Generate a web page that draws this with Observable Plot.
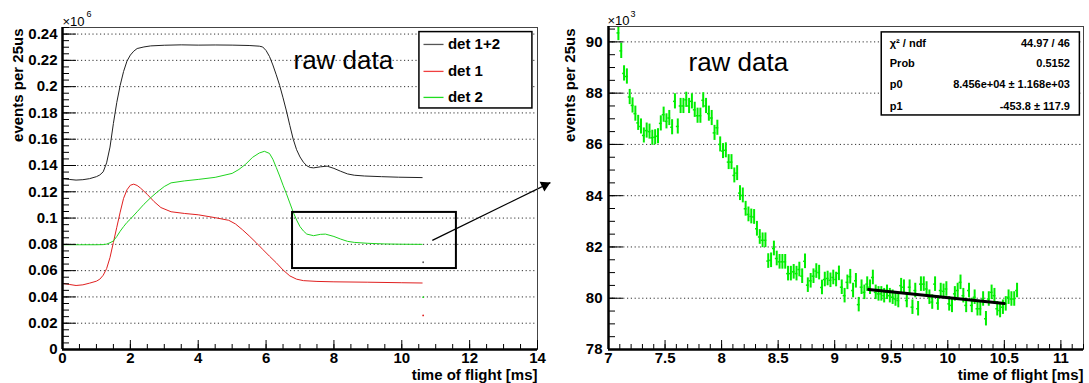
<!DOCTYPE html>
<html><head><meta charset="utf-8">
<script src="https://cdn.jsdelivr.net/npm/d3@7"></script>
<script src="https://cdn.jsdelivr.net/npm/@observablehq/plot@0.6"></script>
<style>
html,body{margin:0;padding:0;background:#fff;}
#wrap{display:flex;width:1089px;height:383px;overflow:hidden;}
#wrap svg{flex:none;}
</style></head><body><div id="wrap"></div>
<script>
// ---------------- data: left panel (counts, units of 1e6) ----------------
const sumT = [0,0.2,0.4,0.6,0.8,1.0,1.1,1.2,1.3,1.4,1.5,1.6,1.7,1.8,1.9,2.0,2.1,2.2,2.4,2.6,3.0,3.5,4.0,4.5,5.0,5.5,5.8,5.9,6.0,6.1,6.2,6.3,6.4,6.5,6.6,6.7,6.8,6.9,7.0,7.1,7.2,7.3,7.4,7.6,7.8,8.0,8.2,8.4,8.6,8.9,9.4,9.9,10.6];
const sumV = [0.1300,0.1294,0.1289,0.1292,0.1300,0.1315,0.1328,0.1352,0.1420,0.1540,0.1720,0.1880,0.2010,0.2115,0.2194,0.2240,0.2270,0.2290,0.2302,0.2310,0.2315,0.2318,0.2316,0.2317,0.2316,0.2313,0.2308,0.2302,0.2275,0.2230,0.2165,0.2090,0.2010,0.1915,0.1815,0.1705,0.1600,0.1520,0.1465,0.1425,0.1398,0.1385,0.1382,0.1390,0.1395,0.1378,0.1356,0.1336,0.1326,0.1320,0.1315,0.1311,0.1308];
const det1T = [0,0.2,0.4,0.6,0.8,1.0,1.1,1.2,1.3,1.4,1.5,1.6,1.7,1.8,1.9,2.0,2.1,2.2,2.3,2.5,2.7,2.9,3.2,3.6,4.0,4.5,4.9,5.1,5.3,5.5,5.7,5.9,6.1,6.3,6.5,6.7,6.9,7.1,7.5,8.0,9.0,10.0,10.6];
const det1V = [0.0503,0.0495,0.0487,0.0492,0.0505,0.0520,0.0535,0.0565,0.0615,0.0700,0.0815,0.0930,0.1045,0.1150,0.1215,0.1250,0.1258,0.1248,0.1228,0.1180,0.1125,0.1080,0.1048,0.1035,0.1025,0.1003,0.0983,0.0955,0.0912,0.0865,0.0815,0.0762,0.0710,0.0660,0.0605,0.0560,0.0535,0.0524,0.0518,0.0515,0.0512,0.0508,0.0506];
const det2T = [0,0.5,1.0,1.2,1.3,1.4,1.5,1.6,1.7,1.8,1.9,2.0,2.2,2.4,2.6,2.8,3.0,3.2,3.6,4.0,4.5,5.0,5.2,5.4,5.6,5.8,5.95,6.1,6.2,6.3,6.4,6.5,6.6,6.7,6.8,6.9,7.0,7.1,7.2,7.4,7.6,7.75,8.0,8.2,8.4,8.6,9.0,9.5,10.0,10.6];
const det2V = [0.0797,0.0797,0.0797,0.0798,0.0802,0.0812,0.0826,0.0860,0.0900,0.0935,0.0967,0.0992,0.1048,0.1105,0.1155,0.1200,0.1240,0.1268,0.1283,0.1294,0.1310,0.1340,0.1370,0.1410,0.1462,0.1495,0.1508,0.1492,0.1448,0.1385,0.1320,0.1250,0.1185,0.1115,0.1045,0.0985,0.0935,0.0902,0.0878,0.0866,0.0876,0.0878,0.0860,0.0840,0.0823,0.0815,0.0808,0.0803,0.0801,0.0800];
// last (partial) bin of each histogram
const lastBinT = 10.63;
const lastBinV = {sum: 0.0664, det1: 0.0259, det2: 0.0398};
const seriesNames = ["det 1+2", "det 1", "det 2"];

// ---------------- data: right panel (det 2 zoom, units of 1e3) ----------------
const binStart = 7.0875, binWidth = 0.025;
const rightV = [90.35,89.65,88.77,88.65,87.85,87.52,87.2,86.84,86.7,86.35,86.54,86.5,86.26,86.28,86.32,86.82,87.16,86.9,87.03,86.67,87.68,86.7,87.5,87.5,87.74,87.5,87.68,87.35,87.12,87.12,87.72,87.5,87.2,87.03,86.45,86.65,86.0,85.74,
85.77,85.31,85.31,84.79,84.88,84.10,84.01,83.49,83.27,83.19,83.17,82.71,82.39,82.26,82.26,81.45,81.48,81.94,81.55,81.42,81.42,81.42,80.96,80.96,81.03,80.96,81.12,80.86,81.44,80.51,80.68,80.86,81.06,81.00,80.42,80.73,80.77,80.70,80.81,80.73,
80.97,80.43,80.10,80.62,80.84,80.30,80.68,79.75,80.43,80.23,80.55,80.43,80.81,80.23,80.17,80.17,80.10,80.23,80.10,80.04,79.97,79.91,80.49,80.43,79.91,80.43,79.65,80.30,79.59,80.55,80.55,80.36,80.04,79.85,80.55,79.81,80.30,80.27,80.36,79.78,79.72,80.17,
80.30,80.62,80.10,79.72,80.30,79.72,80.04,79.59,79.59,79.97,79.20,79.97,80.23,80.10,79.59,79.52,79.65,79.78,80.04,79.97,79.97,80.30];
const fitRange = [9.3, 10.5];
const p0 = 84560, p1 = -453.8;
const statsNames = ["χ² / ndf", "Prob", "p0", "p1"];
const statsValues = ["44.97 / 46", "0.5152", "8.456e+04 ± 1.168e+03", "-453.8 ± 117.9"];

// ---------------- tick labels ----------------
const leftYTicks = [0,0.02,0.04,0.06,0.08,0.1,0.12,0.14,0.16,0.18,0.2,0.22,0.24];
const leftXTicks = [0,2,4,6,8,10,12,14];
const rightYTicks = [78,80,82,84,86,88,90];
const rightXTicks = [7,7.5,8,8.5,9,9.5,10,10.5,11];

// ---------------- build ----------------
const FONT = "'Liberation Sans', Arial, Helvetica, sans-serif";
const H = 383;
const rows = (T, V) => T.map((t, i) => ({t, v: V[i]}));
const sumRows = rows(sumT, sumV), d1Rows = rows(det1T, det1V), d2Rows = rows(det2T, det2V);
const rightRows = rightV.map((v, i) => ({t: binStart + i * binWidth, v, e: Math.sqrt(v * 1000) / 1000}));
const fitRows = fitRange.map(t => ({t, v: (p0 + p1 * t) / 1000}));

const colSum = "#222", colD1 = "#e02020", colD2 = "#1fd41f", colGreen = "#00ee00";
const gridOpts = {stroke: "#333", strokeWidth: 1, strokeDasharray: "1.2,2.6"};

function ticksMarks(xMaj, xMin, yMaj, yMin, fw, fh, yMajLen, yMinLen) {
  return [
    Plot.tickY(yMaj, {y: d => d, insetRight: fw - yMajLen, stroke: "black"}),
    Plot.tickY(yMin, {y: d => d, insetRight: fw - yMinLen, stroke: "black"}),
    Plot.tickX(xMaj, {x: d => d, insetTop: fh - 9, stroke: "black"}),
    Plot.tickX(xMin, {x: d => d, insetTop: fh - 5, stroke: "black"})
  ];
}

// ---- left panel ----
const W1 = 556, ml1 = 62, mr1 = 19, mt1 = 27, mb1 = 34;
const fw1 = W1 - ml1 - mr1, fh1 = H - mt1 - mb1;
const xMin1 = d3.range(0, 14.001, 0.5), yMin1 = d3.range(0, 0.2451, 0.005);
const legendBox = {x1: 10.52, x2: 13.85, y1: 0.1834, y2: 0.2415};
const legendRowsY = [0.2321, 0.2116, 0.1918];
const legendCols = ["#555", "#f04040", "#20dd20"];
const legendRows = seriesNames.map((name, i) => ({name, y: legendRowsY[i], c: legendCols[i]}));
const zoomBox = {x1: 6.78, x2: 11.61, y1: 0.0616, y2: 0.1043};
const arrowPts = {x1: 10.9, y1: 0.083, x2: 14.38, y2: 0.127};

const left = Plot.plot({
  width: W1, height: H, marginLeft: ml1, marginRight: mr1, marginTop: mt1, marginBottom: mb1,
  style: {fontFamily: FONT, fontSize: "15px", fontWeight: "bold", background: "white", overflow: "visible"},
  x: {domain: [0, 14]}, y: {domain: [0, 0.245]},
  marks: [
    Plot.ruleY(leftYTicks.filter(d => d > 0), gridOpts),
    Plot.line(sumRows, {x: "t", y: "v", stroke: colSum, strokeWidth: 1}),
    Plot.line(d1Rows, {x: "t", y: "v", stroke: colD1, strokeWidth: 1}),
    Plot.line(d2Rows, {x: "t", y: "v", stroke: colD2, strokeWidth: 1}),
    Plot.dot([{t: lastBinT, v: lastBinV.sum}], {x: "t", y: "v", r: 0.9, fill: "#555", stroke: null}),
    Plot.dot([{t: lastBinT, v: lastBinV.det1}], {x: "t", y: "v", r: 0.9, fill: colD1, stroke: null}),
    Plot.dot([{t: lastBinT, v: lastBinV.det2}], {x: "t", y: "v", r: 0.9, fill: colD2, stroke: null}),
    Plot.rect([zoomBox], {x1: "x1", x2: "x2", y1: "y1", y2: "y2", fill: "none", stroke: "black", strokeWidth: 2}),
    Plot.rect([legendBox], {x1: "x1", x2: "x2", y1: "y1", y2: "y2", fill: "white", stroke: "black", strokeWidth: 1.5}),
    ...legendRows.map(r => Plot.link([r], {x1: () => 10.64, x2: () => 11.23, y1: "y", y2: "y", stroke: r.c, strokeWidth: 1.3})),
    Plot.text(legendRows, {x: () => 11.36, y: "y", text: "name", textAnchor: "start", lineAnchor: "middle", fontSize: 15, fontWeight: "bold"}),
    Plot.text(["raw data"], {text: d => d, frameAnchor: "top-left", dx: 231, dy: 33, textAnchor: "start", lineAnchor: "middle", fontSize: 26, fontWeight: "normal"}),
    Plot.link([arrowPts], {x1: "x1", y1: "y1", x2: "x2", y2: "y2", stroke: "black", strokeWidth: 1.3}),
    Plot.dot([arrowPts], {x: "x2", y: "y2", symbol: "triangle", r: 4, rotate: 64, dx: -5.6, dy: 2.7, fill: "black", stroke: null}),
    Plot.frame({stroke: "#444", strokeWidth: 1}),
    Plot.ruleX([0], {stroke: "black", strokeWidth: 2.5}),
    Plot.ruleY([0], {stroke: "black", strokeWidth: 2.5}),
    ...ticksMarks(leftXTicks, xMin1, leftYTicks, yMin1, fw1, fh1, 14, 7),
    Plot.axisY(leftYTicks, {tickSize: 0, tickPadding: 5, label: null, tickFormat: d => String(+d.toFixed(2)), fontSize: 15, fontWeight: "bold"}),
    Plot.axisX(leftXTicks, {tickSize: 0, tickPadding: 3, label: null, tickFormat: d => String(d), fontSize: 15, fontWeight: "bold"}),
    Plot.text(["×10"], {text: d => d, frameAnchor: "top-left", dx: 0, dy: -6, textAnchor: "start", lineAnchor: "middle", fontSize: 13, fontWeight: "normal"}),
    Plot.text(["6"], {text: d => d, frameAnchor: "top-left", dx: 24, dy: -13, textAnchor: "start", lineAnchor: "middle", fontSize: 9, fontWeight: "normal"}),
    Plot.text(["events per 25us"], {text: d => d, frameAnchor: "top-left", dx: -44, dy: 1, rotate: -90, textAnchor: "end", lineAnchor: "middle", fontSize: 15, fontWeight: "bold"}),
    Plot.text(["time of flight [ms]"], {text: d => d, frameAnchor: "bottom-right", dx: 0, dy: 26, textAnchor: "end", lineAnchor: "middle", fontSize: 15, fontWeight: "bold"})
  ]
});

// ---- right panel ----
const W2 = 533, ml2 = 52, mr2 = 6, mt2 = 26, mb2 = 34;
const fw2 = W2 - ml2 - mr2, fh2 = H - mt2 - mb2;
const xMin2 = d3.range(7, 11.2001, 0.1), yMin2 = d3.range(78, 90.6001, 0.5);
const statsBox = {x1: 9.416, x2: 11.168, y1: 87.13, y2: 90.37};
const statsRowsY = [89.94, 89.16, 88.34, 87.48];
const statsRows = statsNames.map((n, i) => ({n, val: statsValues[i], y: statsRowsY[i]}));

const right = Plot.plot({
  width: W2, height: H, marginLeft: ml2, marginRight: mr2, marginTop: mt2, marginBottom: mb2,
  style: {fontFamily: FONT, fontSize: "15px", fontWeight: "bold", background: "white"},
  x: {domain: [7, 11.2]}, y: {domain: [78, 90.6]},
  marks: [
    Plot.ruleY(rightYTicks.filter(d => d > 78), gridOpts),
    Plot.ruleX(rightRows, {x: "t", y1: d => d.v - d.e, y2: d => d.v + d.e, stroke: colGreen, strokeWidth: 2, clip: true}),
    Plot.ruleY(rightRows, {y: "v", x1: d => d.t - binWidth / 2, x2: d => d.t + binWidth / 2, stroke: colGreen, strokeWidth: 1.5, clip: true}),
    Plot.line(fitRows, {x: "t", y: "v", stroke: "black", strokeWidth: 3}),
    Plot.text(["raw data"], {text: d => d, frameAnchor: "top-left", dx: 80, dy: 36, textAnchor: "start", lineAnchor: "middle", fontSize: 26, fontWeight: "normal"}),
    Plot.rect([statsBox], {x1: "x1", x2: "x2", y1: "y1", y2: "y2", fill: "white", stroke: "black", strokeWidth: 1.5}),
    Plot.text(statsRows, {x: () => 9.487, y: "y", text: "n", textAnchor: "start", lineAnchor: "middle", fontSize: 11, fontWeight: "bold"}),
    Plot.text(statsRows, {x: () => 11.08, y: "y", text: "val", textAnchor: "end", lineAnchor: "middle", fontSize: 11, fontWeight: "bold"}),
    Plot.frame({stroke: "#444", strokeWidth: 1}),
    Plot.ruleX([7], {stroke: "black", strokeWidth: 2.5}),
    Plot.ruleY([78], {stroke: "black", strokeWidth: 2.5}),
    ...ticksMarks(rightXTicks, xMin2, rightYTicks, yMin2, fw2, fh2, 15, 7),
    Plot.axisY(rightYTicks, {tickSize: 0, tickPadding: 6, label: null, tickFormat: d => String(d), fontSize: 15, fontWeight: "bold"}),
    Plot.axisX(rightXTicks, {tickSize: 0, tickPadding: 3, label: null, tickFormat: d => String(d), fontSize: 15, fontWeight: "bold"}),
    Plot.text(["×10"], {text: d => d, frameAnchor: "top-left", dx: -1, dy: -6, textAnchor: "start", lineAnchor: "middle", fontSize: 13, fontWeight: "normal"}),
    Plot.text(["3"], {text: d => d, frameAnchor: "top-left", dx: 22, dy: -12, textAnchor: "start", lineAnchor: "middle", fontSize: 9, fontWeight: "normal"}),
    Plot.text(["events per 25us"], {text: d => d, frameAnchor: "top-left", dx: -38, dy: 2, rotate: -90, textAnchor: "end", lineAnchor: "middle", fontSize: 15, fontWeight: "bold"}),
    Plot.text(["time of flight [ms]"], {text: d => d, frameAnchor: "bottom-right", dx: 0, dy: 26, textAnchor: "end", lineAnchor: "middle", fontSize: 15, fontWeight: "bold"})
  ]
});

const wrap = document.getElementById("wrap");
wrap.appendChild(left);
wrap.appendChild(right);
</script>
</body></html>
